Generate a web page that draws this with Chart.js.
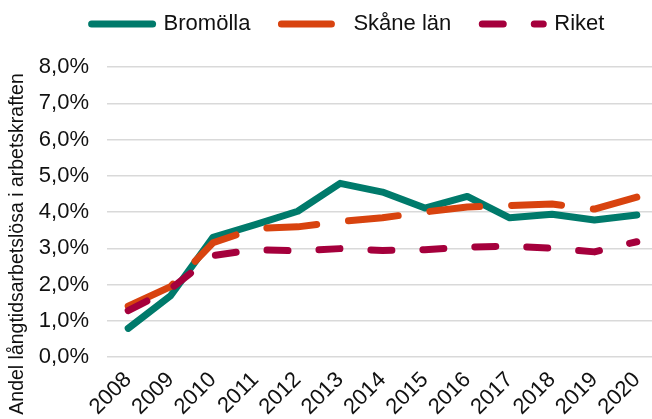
<!DOCTYPE html>
<html>
<head>
<meta charset="utf-8">
<script src="https://cdn.jsdelivr.net/npm/chart.js@4.4.1/dist/chart.umd.min.js"></script>
<style>
  html, body { margin: 0; padding: 0; background: #fff; overflow: hidden; }
  #wrap { width: 652px; height: 419px; overflow: hidden; }
</style>
</head>
<body>
<div id="wrap"><canvas id="chart" width="658" height="419"></canvas></div>
<script>
// data
var years = ['2008', '2009', '2010', '2011', '2012', '2013', '2014', '2015', '2016', '2017', '2018', '2019', '2020'];
var bromolla = [0.79, 1.69, 3.30, 3.65, 4.02, 4.79, 4.55, 4.11, 4.43, 3.84, 3.94, 3.78, 3.92];
var skane = [1.40, 1.94, 3.15, 3.55, 3.59, 3.74, 3.84, 4.00, 4.14, 4.18, 4.22, 4.08, 4.41];
var riket = [1.28, 1.88, 2.80, 2.96, 2.93, 2.99, 2.94, 2.96, 3.03, 3.06, 3.00, 2.90, 3.18];
var yTickLabels = ['0,0%', '1,0%', '2,0%', '3,0%', '4,0%', '5,0%', '6,0%', '7,0%', '8,0%'];
var yTitle = 'Andel långtidsarbetslösa i arbetskraften';

var FONT = "'Liberation Sans', Arial, sans-serif";
Chart.defaults.font.family = FONT;
Chart.defaults.color = '#111';

// legend height fixed so the plot starts where the reference does
var legendHeight = {
  id: 'legendHeight',
  beforeInit: function(chart) {
    var fit = chart.legend.fit;
    chart.legend.fit = function() {
      fit.bind(chart.legend)();
      this.height = 67;
    };
  },
  afterLayout: function(chart) {
    // reference legend sits a bit right of centre and close to the top
    chart.legend.left += 19;
    chart.legend.right += 19;
    chart.legend.top -= 18;
    chart.legend.bottom -= 18;
  }
};

// y axis title drawn where the reference puts it
var sideTitle = {
  id: 'sideTitle',
  afterDraw: function(chart) {
    var ctx = chart.ctx;
    ctx.save();
    ctx.translate(18, 244);
    ctx.rotate(-Math.PI / 2);
    ctx.font = '19.5px ' + FONT;
    ctx.fillStyle = '#111';
    ctx.textAlign = 'center';
    ctx.textBaseline = 'middle';
    ctx.fillText(yTitle, 0, 0);
    ctx.restore();
  }
};

function line(label, values, color, dash, order) {
  return {
    label: label,
    data: values,
    borderColor: color,
    backgroundColor: color,
    borderWidth: 7,
    borderDash: dash,
    borderCapStyle: 'round',
    borderJoinStyle: 'round',
    pointRadius: 0,
    tension: 0,
    order: order
  };
}

var ctx = document.getElementById('chart').getContext('2d');
var myChart = new Chart(ctx, {
  type: 'line',
  data: {
    labels: years,
    datasets: [
      line('Bromölla', bromolla, '#007a6b', [], 3),
      line('Skåne län', skane, '#d8430f', [50, 32], 2),
      line('Riket', riket, '#a5003c', [21, 31], 1)
    ]
  },
  options: {
    responsive: false,
    animation: false,
    devicePixelRatio: 1,
    layout: { padding: 0 },
    plugins: {
      tooltip: { enabled: false },
      legend: {
        position: 'top',
        labels: {
          usePointStyle: true,
          pointStyleWidth: 61,
          boxHeight: 7,
          padding: 31,
          font: { size: 22 },
          color: '#111',
          generateLabels: function(chart) {
            return chart.data.datasets.map(function(ds, i) {
              return {
                text: ds.label,
                datasetIndex: i,
                strokeStyle: ds.borderColor,
                fillStyle: ds.borderColor,
                lineWidth: 7,
                lineDash: ds.borderDash,
                lineCap: 'round',
                pointStyle: 'line',
                rotation: 180,
                fontColor: '#111'
              };
            });
          }
        }
      }
    },
    scales: {
      x: {
        offset: true,
        grid: { display: false },
        border: { display: false },
        ticks: { minRotation: 45, maxRotation: 45, padding: 2, font: { size: 22 }, color: '#111' },
        afterFit: function(scale) { scale.height = 62; }
      },
      y: {
        min: 0,
        max: 8,
        ticks: {
          stepSize: 1,
          padding: 18,
          font: { size: 22 },
          color: '#111',
          callback: function(value, index) { return yTickLabels[index]; }
        },
        grid: { color: '#d9d9d9', lineWidth: 1.5, drawTicks: false },
        border: { display: false },
        afterFit: function(scale) { scale.width = 107; }
      }
    }
  },
  plugins: [legendHeight, sideTitle]
});
</script>
</body>
</html>
